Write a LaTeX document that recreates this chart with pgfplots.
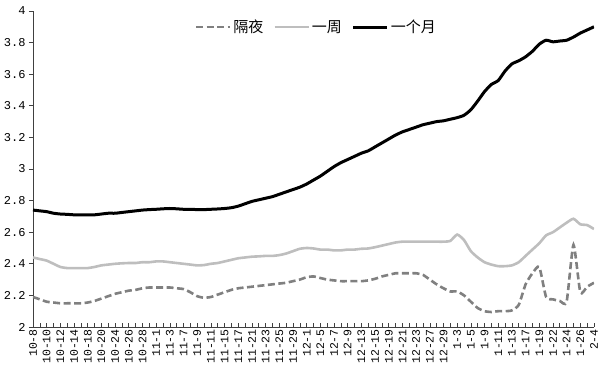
\documentclass[border=0pt]{standalone}
\usepackage{pgfplots}
\usepackage{pgfplotstable}
\usepackage{fontspec}
\pgfplotsset{compat=1.18}
\setmainfont{Liberation Serif}
\newfontfamily\cjk{Noto Sans CJK SC}
\newfontfamily\tickfont{Liberation Mono}
\definecolor{ongray}{RGB}{128,128,128}
\definecolor{wkgray}{RGB}{190,190,190}
\pgfplotstableread{
i o w m
0 2.19 2.44 2.74
1 2.175 2.43 2.735
2 2.16 2.42 2.73
3 2.155 2.40 2.72
4 2.15 2.38 2.715
5 2.15 2.373 2.713
6 2.15 2.373 2.71
7 2.15 2.373 2.71
8 2.155 2.373 2.71
9 2.165 2.38 2.71
10 2.18 2.39 2.715
11 2.195 2.395 2.72
12 2.21 2.40 2.72
13 2.22 2.403 2.725
14 2.23 2.405 2.73
15 2.235 2.405 2.735
16 2.245 2.41 2.74
17 2.25 2.41 2.743
18 2.25 2.415 2.745
19 2.25 2.415 2.748
20 2.25 2.41 2.75
21 2.245 2.405 2.748
22 2.24 2.40 2.745
23 2.22 2.395 2.745
24 2.195 2.39 2.743
25 2.185 2.392 2.743
26 2.19 2.40 2.745
27 2.205 2.405 2.747
28 2.22 2.415 2.75
29 2.235 2.425 2.755
30 2.245 2.435 2.765
31 2.25 2.44 2.78
32 2.255 2.445 2.795
33 2.26 2.447 2.805
34 2.265 2.45 2.815
35 2.27 2.45 2.825
36 2.275 2.455 2.84
37 2.28 2.465 2.855
38 2.29 2.48 2.87
39 2.30 2.495 2.885
40 2.315 2.50 2.905
41 2.32 2.497 2.93
42 2.31 2.49 2.955
43 2.30 2.49 2.985
44 2.295 2.485 3.015
45 2.29 2.485 3.04
46 2.29 2.49 3.06
47 2.29 2.49 3.08
48 2.29 2.495 3.10
49 2.295 2.497 3.115
50 2.305 2.505 3.14
51 2.32 2.515 3.165
52 2.33 2.525 3.19
53 2.34 2.535 3.215
54 2.34 2.54 3.235
55 2.34 2.54 3.25
56 2.34 2.54 3.265
57 2.33 2.54 3.28
58 2.30 2.54 3.29
59 2.27 2.54 3.30
60 2.245 2.54 3.305
61 2.225 2.545 3.315
62 2.225 2.585 3.325
63 2.20 2.55 3.34
64 2.16 2.48 3.375
65 2.12 2.44 3.43
66 2.10 2.41 3.49
67 2.095 2.395 3.535
68 2.10 2.385 3.56
69 2.10 2.385 3.62
70 2.105 2.39 3.665
71 2.14 2.41 3.685
72 2.27 2.45 3.71
73 2.34 2.49 3.745
74 2.38 2.53 3.79
75 2.19 2.58 3.815
76 2.175 2.60 3.805
77 2.165 2.63 3.81
78 2.16 2.66 3.815
79 2.52 2.685 3.835
80 2.22 2.65 3.86
81 2.255 2.645 3.88
82 2.28 2.62 3.90
}\rates
\begin{document}
\begin{tikzpicture}
\useasboundingbox (-33pt,-47pt) rectangle (567pt,327pt);
\begin{axis}[
  at={(0pt,0pt)}, anchor=south west,
  scale only axis, width=561pt, height=316pt,
  xmin=0, xmax=82, ymin=2, ymax=4,
  axis x line=bottom, axis y line=left,
  axis line style={-, line width=0.8pt, black!75},
  xtick={0,2,...,82},
  minor xtick={1,3,...,81},
  xticklabels={10-8,10-10,10-12,10-14,10-18,10-20,10-24,10-26,10-28,11-1,11-3,11-7,11-9,11-11,11-15,11-17,11-21,11-23,11-25,11-29,12-1,12-5,12-7,12-9,12-13,12-15,12-19,12-21,12-23,12-27,12-29,1-3,1-5,1-9,1-11,1-13,1-17,1-19,1-22,1-24,1-26,2-4},
  x tick label style={rotate=90, anchor=east, font=\tickfont\fontsize{11.5}{11.5}\selectfont, inner sep=2pt},
  ytick={2,2.2,...,4.01},
  y tick label style={font=\tickfont\fontsize{12}{12}\selectfont},
  /pgf/number format/assume math mode=true,
  yticklabel={\pgfmathprintnumber[fixed,precision=1]{\tick}},
  x tick style={black!75, line width=0.6pt},
  minor x tick style={black!75, line width=0.6pt},
  y tick style={black!75, line width=0.6pt},
  major tick length=4pt, minor tick length=4pt,
  xtick align=inside, ytick align=outside,
  legend columns=3,
  legend style={at={(0.505,0.985)}, anchor=north, draw=none, fill=none,
    font=\cjk\fontsize{15}{15}\selectfont,
    /tikz/every even column/.append style={column sep=8pt}},
  legend image code/.code={\draw[#1] (0pt,0pt) -- (34pt,0pt);},
]
\addplot[ongray, line width=2.6pt, dash pattern=on 7pt off 3.5pt, smooth, tension=0.35] table[x=i,y=o]{\rates};
\addlegendentry{隔夜}
\addplot[wkgray, line width=2.6pt, smooth, tension=0.35] table[x=i,y=w]{\rates};
\addlegendentry{一周}
\addplot[black, line width=3pt, smooth, tension=0.35] table[x=i,y=m]{\rates};
\addlegendentry{一个月}
\end{axis}
\end{tikzpicture}
\end{document}
